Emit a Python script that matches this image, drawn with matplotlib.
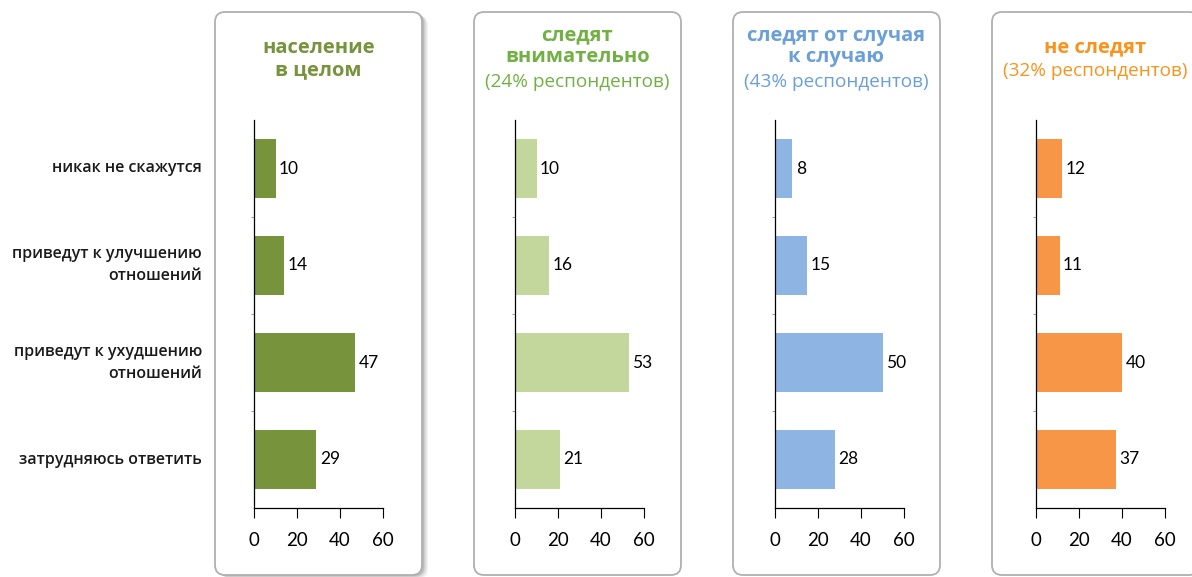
import matplotlib
matplotlib.use("Agg")
import matplotlib.pyplot as plt
from matplotlib.patches import FancyBboxPatch

# данные
categories = ["никак не скажутся", "приведут к улучшению\nотношений",
              "приведут к ухудшению\nотношений", "затрудняюсь ответить"]
group_titles = ["население\nв целом", "следят\nвнимательно", "следят от случая\nк случаю", "не следят"]
group_notes = ["", "(24% респондентов)", "(43% респондентов)", "(32% респондентов)"]
total = [10, 14, 47, 29]
attentive = [10, 16, 53, 21]
sometimes = [8, 15, 50, 28]
not_follow = [12, 11, 40, 37]
series = [total, attentive, sometimes, not_follow]
x_ticks = [0, 20, 40, 60]

bar_colors = ["#77933C", "#C3D69B", "#8EB4E3", "#F79646"]
title_colors = ["#77933C", "#72B043", "#6A9FD8", "#F7941D"]

W, H = 1192, 577
fig = plt.figure(figsize=(W / 100, H / 100), dpi=100)

# фон с карточками (в пикселях)
bg = fig.add_axes([0, 0, 1, 1], zorder=0)
bg.set_xlim(0, W)
bg.set_ylim(H, 0)
bg.axis("off")

box_left = [215, 474, 733, 992]
box_w = 207
for i, bl in enumerate(box_left):
    if i == 0:
        # тень у первой карточки
        for k, a in enumerate([0.05, 0.06, 0.08, 0.10]):
            off = 6 - k * 1.3
            bg.add_patch(FancyBboxPatch((bl + off, 12 + off * 0.6), box_w, 563,
                                        boxstyle="round,pad=0,rounding_size=10",
                                        fc="black", ec="none", alpha=a))
    bg.add_patch(FancyBboxPatch((bl, 12), box_w, 563,
                                boxstyle="round,pad=0,rounding_size=10",
                                fc="white", ec="#B0B0B0", lw=1.3))

ax_left = [254, 515, 775, 1036]
ax_w = 129
ax_top, ax_bot = 120, 508
ypos = list(range(len(categories)))

for i in range(4):
    ax = fig.add_axes([ax_left[i] / W, (H - ax_bot) / H, ax_w / W, (ax_bot - ax_top) / H], zorder=2)
    ax.patch.set_alpha(0)
    vals = series[i]
    ax.barh(ypos, vals, height=0.6, color=bar_colors[i])
    for y, v in zip(ypos, vals):
        ax.text(v + 1.6, y, str(v), va="center", ha="left", fontsize=12.5,
                family="Lato", color="black")
    ax.set_xlim(0, 60)
    ax.set_ylim(3.5, -0.5)
    ax.set_xticks(x_ticks)
    ax.set_xticklabels([str(t) for t in x_ticks], fontsize=13.5, family="Lato")
    ax.tick_params(axis="x", direction="out", length=7, width=0.8, pad=10)
    ax.set_yticks([0.5, 1.5, 2.5])
    ax.set_yticklabels([])
    ax.tick_params(axis="y", length=2, width=0.6, color="#888888")
    for s in ["top", "right"]:
        ax.spines[s].set_visible(False)
    ax.spines["left"].set_linewidth(0.9)
    ax.spines["bottom"].set_linewidth(0.9)

    cx = (box_left[i] + box_w / 2) / W
    tkw = dict(ha="center", va="center", fontsize=14.5, fontweight="bold",
               color=title_colors[i], family="Open Sans", linespacing=1.1)
    if group_notes[i]:
        if "\n" in group_titles[i]:
            fig.text(cx, 1 - 46.5 / H, group_titles[i], **tkw)
            note_y = 82
        else:
            fig.text(cx, 1 - 47 / H, group_titles[i], **tkw)
            note_y = 71
        fig.text(cx, 1 - note_y / H, group_notes[i], ha="center", va="center",
                 fontsize=13.7, color=title_colors[i], family="Open Sans")
    else:
        fig.text(cx, 1 - 59 / H, group_titles[i], **tkw)

# подписи категорий
for y_px, lab in zip([168, 265, 363, 460], categories):
    fig.text(202 / W, 1 - y_px / H, lab, ha="right", va="center", fontsize=11.5,
             family="Open Sans", fontweight="semibold", color="#1a1a1a", linespacing=1.5)

fig.savefig("out.png", dpi=100)
